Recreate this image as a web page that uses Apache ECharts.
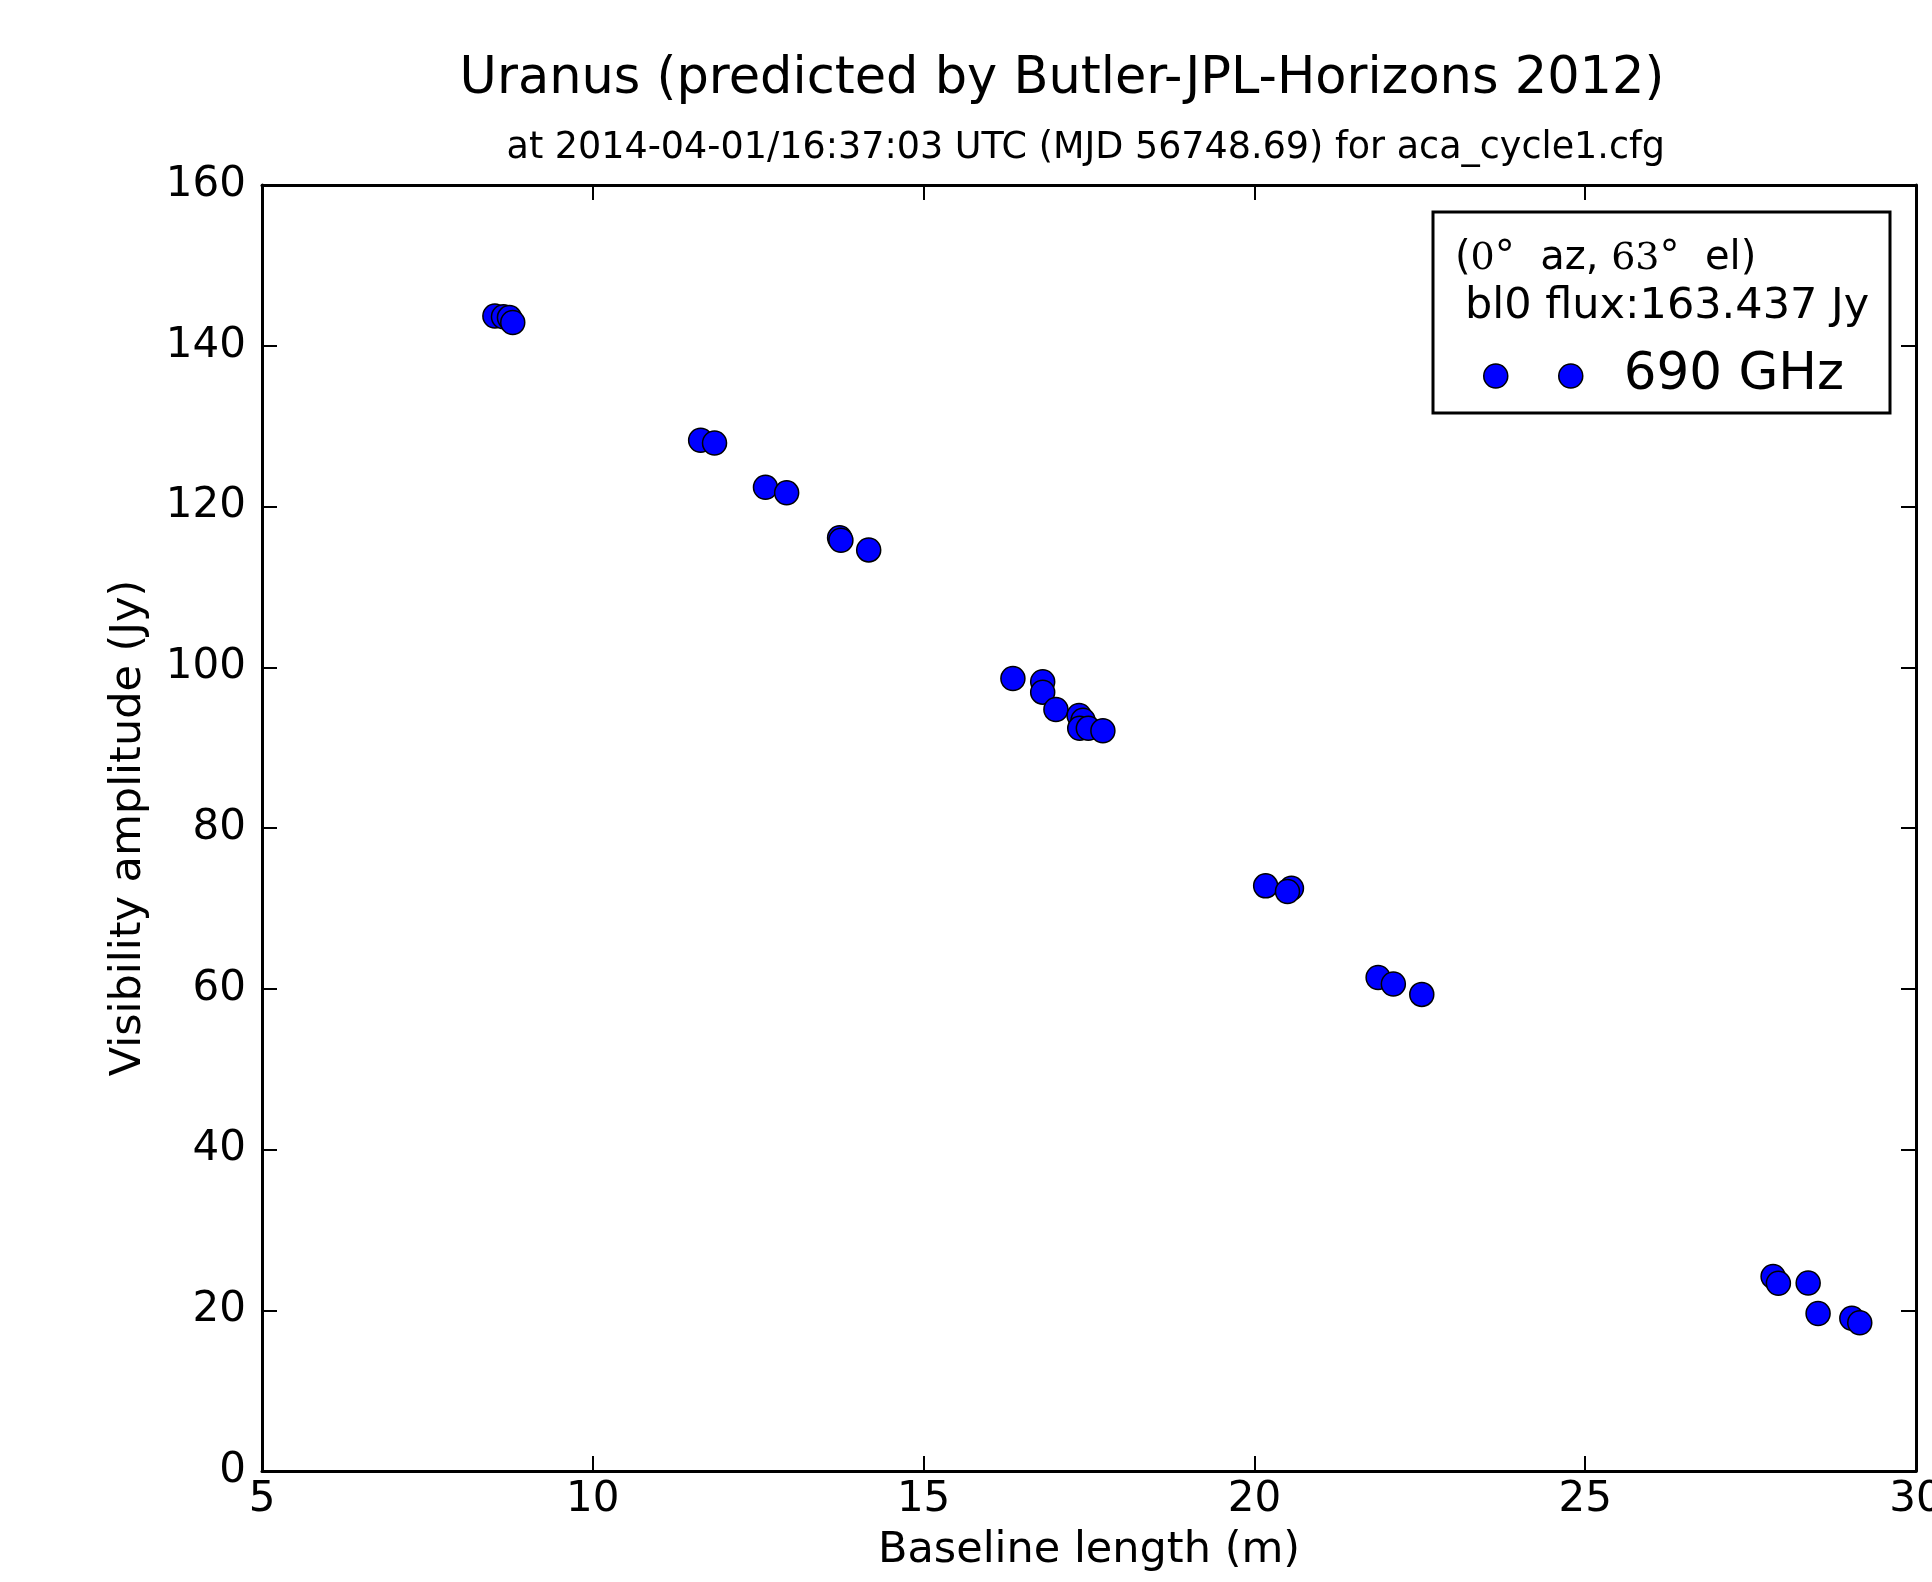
<!DOCTYPE html>
<html>
<head>
<meta charset="utf-8">
<script src="https://cdn.jsdelivr.net/npm/echarts@6/dist/echarts.min.js"></script>
<style>
html,body{margin:0;padding:0;background:#fff;}
#chart{width:1932px;height:1582px;}
</style>
</head>
<body>
<div id="chart"></div>
<script>
const titleText = 'Uranus (predicted by Butler-JPL-Horizons 2012)';
const subtitleText = 'at 2014-04-01/16:37:03 UTC (MJD 56748.69) for aca_cycle1.cfg';
const seriesName = '690 GHz';
const xAxisName = 'Baseline length (m)';
const yAxisName = 'Visibility amplitude (Jy)';
const baselineM = [8.52, 8.65, 8.74, 8.79, 11.63, 11.84, 12.61, 12.93, 13.73, 13.75, 14.17,
  16.35, 16.80, 16.80, 17.00, 17.35, 17.41, 17.36, 17.49, 17.71,
  20.17, 20.56, 20.50, 21.87, 22.10, 22.53,
  27.84, 27.92, 28.37, 28.52, 29.03, 29.15];
const amplitudeJy = [143.7, 143.6, 143.5, 142.9, 128.25, 127.9, 122.4, 121.7, 116.1, 115.8, 114.6,
  98.6, 98.2, 96.9, 94.75, 94.0, 93.4, 92.4, 92.4, 92.1,
  72.8, 72.5, 72.1, 61.4, 60.6, 59.3,
  24.2, 23.35, 23.4, 19.6, 19.0, 18.45];
const xTicks = {min: 5, max: 30, interval: 5};
const yTicks = {min: 0, max: 160, interval: 20};

const chart = echarts.init(document.getElementById('chart'), null, {renderer: 'canvas'});
const sans = 'DejaVu Sans';
const axisLineStyle = {color: '#000', width: 3};
const tickStyle = {show: true, inside: true, length: 15, lineStyle: {color: '#000', width: 2}};

const points = baselineM.map((x, i) => [x, amplitudeJy[i]]);

chart.setOption({
  backgroundColor: '#fff',
  animation: false,
  grid: {left: 262, right: 16, top: 185, bottom: 111, containLabel: false, outerBoundsMode: 'none'},
  xAxis: [{
    type: 'value', min: xTicks.min, max: xTicks.max, interval: xTicks.interval,
    position: 'bottom',
    name: xAxisName, nameLocation: 'middle', nameGap: 58,
    nameTextStyle: {fontFamily: sans, fontSize: 43, color: '#000', verticalAlign: 'top'},
    axisLine: {show: true, onZero: false, lineStyle: axisLineStyle},
    axisTick: tickStyle,
    axisLabel: {fontFamily: sans, fontSize: 42, color: '#000', margin: 8, hideOverlap: false},
    splitLine: {show: false}
  }, {
    type: 'value', min: xTicks.min, max: xTicks.max, interval: xTicks.interval,
    position: 'top',
    axisLine: {show: true, onZero: false, lineStyle: axisLineStyle},
    axisTick: tickStyle,
    axisLabel: {show: false},
    splitLine: {show: false}
  }],
  yAxis: [{
    type: 'value', min: yTicks.min, max: yTicks.max, interval: yTicks.interval,
    position: 'left',
    name: yAxisName, nameLocation: 'middle', nameGap: 112, nameRotate: 90,
    nameTextStyle: {fontFamily: sans, fontSize: 43, color: '#000'},
    axisLine: {show: true, onZero: false, lineStyle: axisLineStyle},
    axisTick: tickStyle,
    axisLabel: {fontFamily: sans, fontSize: 42, color: '#000', margin: 16},
    splitLine: {show: false}
  }, {
    type: 'value', min: yTicks.min, max: yTicks.max, interval: yTicks.interval,
    position: 'right',
    axisLine: {show: true, onZero: false, lineStyle: axisLineStyle},
    axisTick: tickStyle,
    axisLabel: {show: false},
    splitLine: {show: false}
  }],
  legend: {
    show: true,
    z: 30,
    data: [seriesName],
    left: 1478, top: 345,
    orient: 'vertical',
    itemWidth: 99, itemHeight: 24,
    icon: 'path://M0,12a12,12 0 1,0 24,0a12,12 0 1,0 -24,0zM75,12a12,12 0 1,0 24,0a12,12 0 1,0 -24,0z',
    textStyle: {fontFamily: sans, fontSize: 51.5, color: '#000', padding: [0, 0, 0, 36]},
    itemStyle: {color: '#0000ff', borderColor: '#000', borderWidth: 1.5}
  },
  graphic: [
    {type: 'text', x: 1062, y: 80, style: {text: titleText, font: '51px "DejaVu Sans"', fill: '#000', textAlign: 'center', textVerticalAlign: 'middle'}},
    {type: 'text', x: 1665, y: 149, style: {text: subtitleText, font: '36.5px "DejaVu Sans"', fill: '#000', textAlign: 'right', textVerticalAlign: 'middle'}},
    {type: 'rect', z: 1, shape: {x: 1433, y: 212, width: 457, height: 201}, style: {fill: '#fff', stroke: '#000', lineWidth: 3}},
    {type: 'text', x: 1455, y: 259, z: 2, style: {
      text: '{s|(}{r|0}{s|°  az, }{r|63}{s|°  el)}',
      textVerticalAlign: 'middle',
      rich: {
        s: {fontFamily: sans, fontSize: 40, fill: '#000', color: '#000'},
        r: {fontFamily: 'DejaVu Serif', fontSize: 38, fill: '#000', color: '#000'}
      }
    }},
    {type: 'text', x: 1465, y: 307, z: 2, style: {text: 'bl0 flux:163.437 Jy', font: '43px "DejaVu Sans"', fill: '#000', textVerticalAlign: 'middle'}}
  ],
  series: [{
    name: seriesName,
    type: 'scatter',
    xAxisIndex: 0, yAxisIndex: 0,
    symbol: 'circle', symbolSize: 24,
    itemStyle: {color: '#0000ff', borderColor: '#000', borderWidth: 1.5, opacity: 1},
    data: points,
    z: 5
  }]
});
</script>
</body>
</html>
